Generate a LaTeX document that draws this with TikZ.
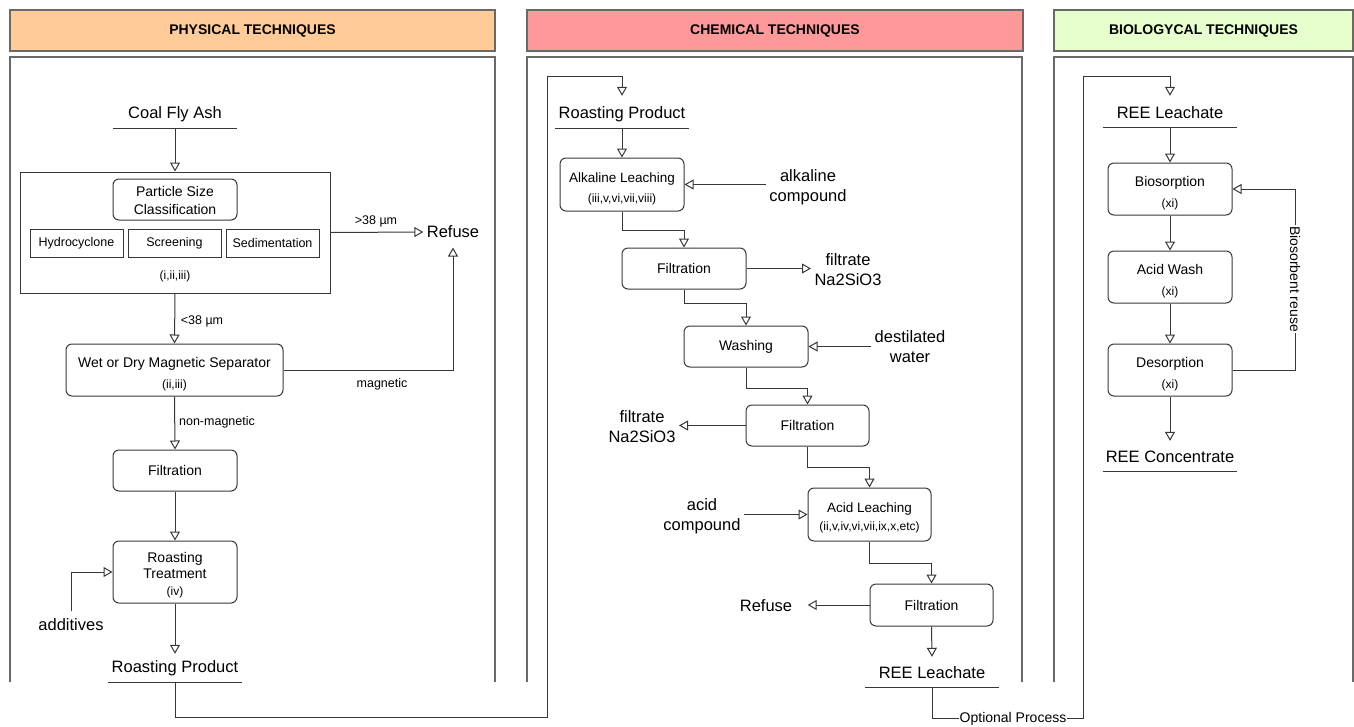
\documentclass[tikz,border=0pt]{standalone}
\usepackage{fontspec}
\setmainfont{Liberation Sans}
\usetikzlibrary{arrows.meta}
\definecolor{physc}{RGB}{255,204,153}
\definecolor{chemc}{RGB}{255,153,153}
\definecolor{bioc}{RGB}{230,255,204}
\definecolor{lc}{RGB}{55,55,55}
\definecolor{pc}{RGB}{105,105,105}
\newcommand\ftbig{\fontsize{16.5}{20}\selectfont}
\newcommand\ftbox{\fontsize{14}{17}\selectfont}
\newcommand\ftsm{\fontsize{12.5}{15}\selectfont}
\newcommand\ftxs{\fontsize{12}{14}\selectfont}
\newcommand\fthdr{\fontsize{14}{17}\selectfont\bfseries}
\newcommand\upstrut[1]{\rule{0pt}{#1pt}}
\begin{document}
\begin{tikzpicture}[x=1pt,y=-1pt,
  hdr/.style={draw=pc, line width=1.2pt, font=\fthdr, inner sep=0pt, minimum height=41pt},
  panel/.style={draw=pc, line width=1.2pt},
  box/.style={draw=lc, line width=1pt, rounded corners=6pt, align=center, inner sep=0pt, font=\ftbox},
  sq/.style={draw=lc, line width=1pt, inner sep=0pt},
  txt/.style={font=\ftbig, align=center},
  lbl/.style={font=\ftsm, inner sep=1pt},
  uline/.style={font=\ftbig, inner sep=0pt, minimum height=28pt,
    append after command={(\tikzlastnode.south west) edge[draw=lc, line width=1pt] (\tikzlastnode.south east)}},
  arr/.style={draw=lc, line width=1pt, -{Triangle[open, length=9pt, width=10pt]}},
  ln/.style={draw=lc, line width=1pt}]
\useasboundingbox (0,0) rectangle (1354,726);

% headers
\node[hdr, fill=physc, minimum width=485pt] (h1) at (252.5,30.5) {PHYSICAL TECHNIQUES};
\node[hdr, fill=chemc, minimum width=496pt] (h2) at (775,30.5) {CHEMICAL TECHNIQUES};
\node[hdr, fill=bioc, minimum width=299pt] (h3) at (1203.5,30.5) {BIOLOGYCAL TECHNIQUES};

% panels
\draw[panel] (10,682) -- (10,57) -- (495,57) -- (495,682);
\draw[panel] (527,682) -- (527,57) -- (1022,57) -- (1022,682);
\draw[panel] (1054,682) -- (1054,57) -- (1353,57) -- (1353,682);

% ---------- physical ----------
\node[uline, minimum width=124pt] (cfa) at (175,114) {Coal Fly Ash};
\node[sq, minimum width=310pt, minimum height=121pt] (psc) at (175,232.5) {};
\node[box, minimum width=124pt, minimum height=41pt, font=\fontsize{14}{18}\selectfont] (pscl) at (175,199.5) {\upstrut{12}Particle Size\\Classification};
\node[sq, font=\ftsm, minimum width=93pt, minimum height=28pt] (hyd) at (76.5,243) {Hydrocyclone};
\node[sq, font=\ftsm, minimum width=93pt, minimum height=28pt] (scr) at (174.5,243) {Screening};
\node[sq, font=\ftsm, minimum width=93pt, minimum height=28pt] (sed) at (272.5,243) {Sedimentation};
\node[font=\ftxs] (pscref) at (175,276) {(i,ii,iii)};
\node[txt] (ref1) at (453,232) {Refuse};
\draw[arr] (cfa.south) -- (psc.north);
\draw[arr] (psc.east) -- (ref1.west);
\node[lbl] (l38a) at (376,221) {>38 µm};

\node[box, minimum width=217pt, minimum height=52pt] (mag) at (174.5,370) {\upstrut{18.5}Wet or Dry Magnetic Separator\\[4pt]{\ftxs (ii,iii)}};
\draw[arr] (psc.south) -- (mag.north);
\node[lbl] (l38b) at (202,321) {<38 µm};
\draw[arr] (mag.east) -| ([yshift=-6pt]ref1.south);
\node[lbl] (lmag) at (382,384) {magnetic};

\node[box, minimum width=124pt, minimum height=41pt] (pf) at (175,470.5) {Filtration};
\draw[arr] (mag.south) -- (pf.north);
\node[lbl] (lnm) at (217,422) {non-magnetic};

\node[box, minimum width=124pt, minimum height=62pt, font=\fontsize{14}{16}\selectfont] (roast) at (175,572) {\upstrut{16.5}Roasting\\Treatment\\[1.5pt]{\ftxs (iv)}};
\draw[arr] (pf.south) -- (roast.north);
\node[txt] (add) at (71,625) {additives};
\draw[arr] ([yshift=4pt]add.north) |- (roast.west);

\node[uline, minimum width=134pt] (rp1) at (175,668) {Roasting Product};
\draw[arr] (roast.south) -- (rp1.north);

% ---------- chemical ----------
\coordinate (c2) at (547,717);
\coordinate (c3) at (547,76);
\node[uline, minimum width=134pt] (rp2) at (622,114) {Roasting Product};
\draw[arr] (rp1.south) |- (c2) -- (c3) -| ([yshift=4pt]rp2.north);

\node[box, minimum width=124pt, minimum height=53pt, font=\fontsize{13.5}{16}\selectfont] (al) at (622,184.5) {\upstrut{18}Alkaline Leaching\\[4pt]{\ftxs (iii,v,vi,vii,viii)}};
\draw[arr] (rp2.south) -- (al.north);
\node[txt] (alk) at (808,187) {alkaline\\compound};
\draw[arr] (al.east -| alk.west) -- (al.east);

\node[box, minimum width=124pt, minimum height=41pt] (f1) at (684,268.5) {Filtration};
\draw[arr] (al.south) -- ++(0,19) -| (f1.north);
\node[txt] (fn1) at (848,270) {filtrate\\Na2SiO3};
\draw[arr] (f1.east) -- (f1.east -| fn1.west);

\node[box, minimum width=124pt, minimum height=41pt] (wash) at (746,346.5) {Washing};
\draw[arr] (f1.south) -- ++(0,14) -| (wash.north);
\node[txt] (dw) at (910,347) {destilated\\water};
\draw[arr] (wash.east -| dw.west) -- (wash.east);

\node[box, minimum width=123pt, minimum height=41pt] (f2) at (807.5,425.5) {Filtration};
\draw[arr] (wash.south) -- ++(0,21) -| (f2.north);
\node[txt] (fn2) at (642,427) {filtrate\\Na2SiO3};
\draw[arr] (f2.west) -- (f2.west -| fn2.east);

\node[box, minimum width=123pt, minimum height=53pt, font=\fontsize{13.5}{16}\selectfont] (acid) at (869.5,514.5) {\upstrut{16}Acid Leaching\\[2pt]{\ftxs (ii,v,iv,vi,vii,ix,x,etc)}};
\draw[arr] (f2.south) -- ++(0,21) -| (acid.north);
\node[txt] (ac) at (702,516) {acid\\compound};
\draw[arr] (acid.west -| ac.east) -- (acid.west);

\node[box, minimum width=123pt, minimum height=42pt] (f3) at (931.5,605) {Filtration};
\draw[arr] (acid.south) -- ++(0,22) -| (f3.north);
\node[txt] (ref2) at (766,606) {Refuse};
\draw[arr] (f3.west) -- ([xshift=12pt]ref2.east |- f3.west);

\node[uline, minimum width=134pt] (rl1) at (932,673) {REE Leachate};
\draw[arr] (f3.south) -- ([yshift=2pt]rl1.north);

% ---------- biological ----------
\coordinate (c5) at (1083,718);
\coordinate (c6) at (1083,76);
\node[uline, minimum width=134pt] (rl2) at (1170,113) {REE Leachate};
\draw[arr] (rl1.south) |- (c5) -- (c6) -| ([yshift=3pt]rl2.north);
\node[fill=white, inner sep=1pt, font=\ftbox] (opt) at (1013,719) {Optional Process};

\node[box, minimum width=124pt, minimum height=52pt] (bs) at (1170,189) {\upstrut{18}Biosorption\\[4.5pt]{\ftxs (xi)}};
\node[box, minimum width=124pt, minimum height=52pt] (aw) at (1170,277) {\upstrut{18}Acid Wash\\[4.5pt]{\ftxs (xi)}};
\node[box, minimum width=124pt, minimum height=52pt] (ds) at (1170,370) {\upstrut{18}Desorption\\[4.5pt]{\ftxs (xi)}};
\node[uline, minimum width=134pt] (rc) at (1170,457) {REE Concentrate};
\draw[arr] (rl2.south) -- (bs.north);
\draw[arr] (bs.south) -- (aw.north);
\draw[arr] (aw.south) -- (ds.north);
\draw[arr] (ds.south) -- ([yshift=2pt]rc.north);
\coordinate (c7) at (1295,370);
\coordinate (c8) at (1295,189);
\draw[arr] (ds.east) -- (c7) -- (c8) -- (bs.east);
\node[fill=white, inner sep=1pt, font=\ftbox, rotate=-90] (reuse) at (1295,279) {Biosorbent reuse};
\end{tikzpicture}
\end{document}
